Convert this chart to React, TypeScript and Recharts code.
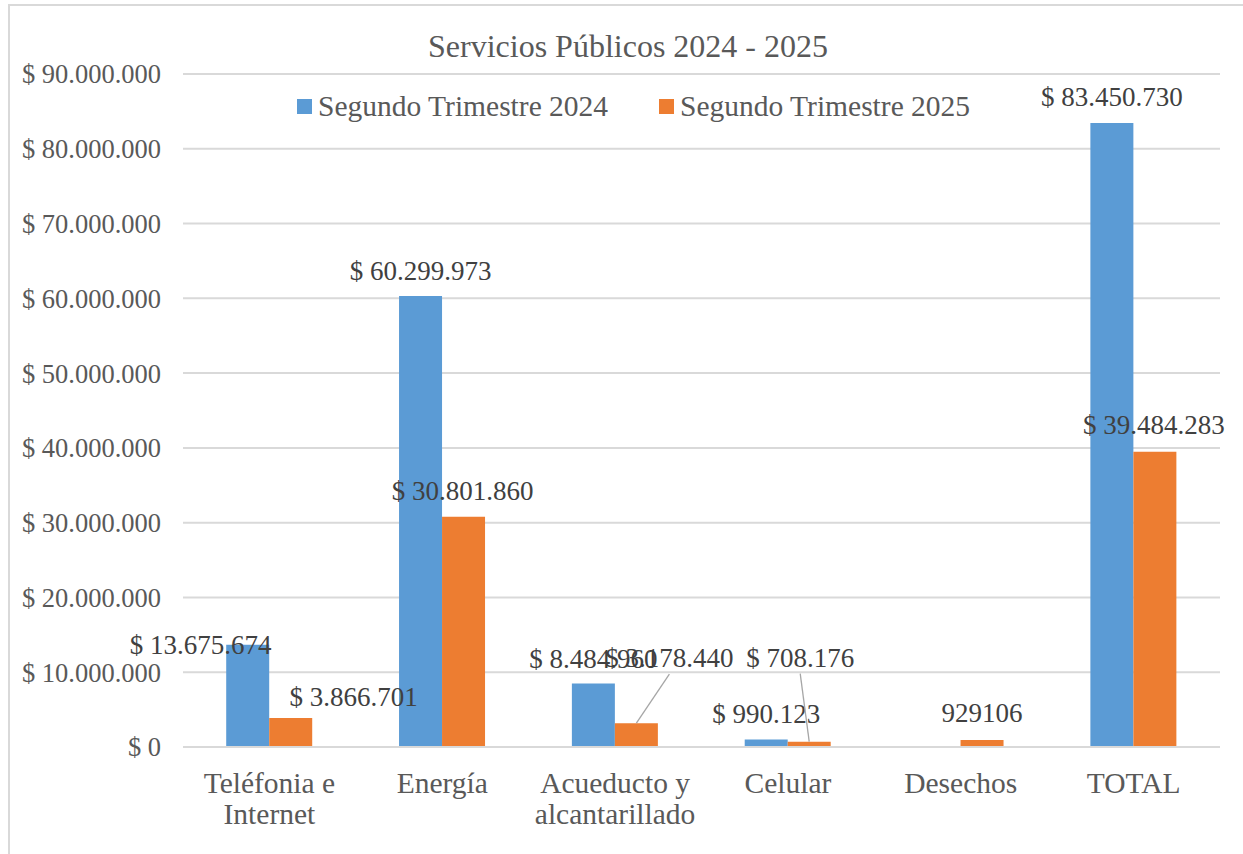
import React from 'react';
import { BarChart, Bar, XAxis, YAxis, CartesianGrid, Legend, LabelList, Customized } from 'recharts';

const categories = ['Teléfonia e Internet', 'Energía', 'Acueducto y alcantarillado', 'Celular', 'Desechos', 'TOTAL'];
const categoryLines = [['Teléfonia e', 'Internet'], ['Energía'], ['Acueducto y', 'alcantarillado'], ['Celular'], ['Desechos'], ['TOTAL']];
const trimestre2024 = [13675674, 60299973, 8484960, 990123, null, 83450730];
const trimestre2025 = [3866701, 30801860, 3178440, 708176, 929106, 39484283];
const yTicks = [0, 10000000, 20000000, 30000000, 40000000, 50000000, 60000000, 70000000, 80000000, 90000000];
const rawLabelCategories = ['Desechos'];
const seriesNames = ['Segundo Trimestre 2024', 'Segundo Trimestre 2025'];

const data = categories.map((c, i) => ({ name: c, a: trimestre2024[i], b: trimestre2025[i] }));

// label placement (dx, dy of label centre from bar top centre, leader line)
const place2024: [number, number, boolean][] = [[-47, 0, false], [0, -25, false], [0, -25, false], [0, -26, false], [0, -25, false], [0, -26, false]];
const place2025: [number, number, boolean][] = [[63, -21, false], [-1, -26, false], [33, -65, true], [-9, -84, true], [0, -27, false], [-1, -27, false]];

const BLUE = '#5B9BD5';
const ORANGE = '#ED7D31';
const FONT = '"Liberation Serif", "Times New Roman", serif';

const dots = (n: number) => String(n).replace(/\B(?=(\d{3})+(?!\d))/g, '.');
const money = (n: number) => '$ ' + dots(n);

const makeLabel = (values: (number | null)[], place: [number, number, boolean][]) => (props: any) => {
  const { x, y, width, value } = props;
  if (value == null) return null;
  const idx = values.indexOf(Number(value));
  if (idx < 0) return null;
  const [dx, dy, leader] = place[idx];
  const cx = Number(x) + Number(width) / 2;
  const top = Number(y);
  const tx = cx + dx;
  const ty = top + dy;
  const txt = rawLabelCategories.includes(categories[idx]) ? String(value) : money(Number(value));
  return (
    <g>
      {leader && <line x1={cx} y1={top} x2={tx} y2={ty + 16} stroke="#A6A6A6" strokeWidth={1.3} />}
      <text x={tx} y={ty} textAnchor="middle" dominantBaseline="central" fontSize={27} fontFamily={FONT} fill="#404040">{txt}</text>
    </g>
  );
};

const XTick = (props: any) => {
  const { x, y, payload, index } = props;
  const idx = categories.indexOf(payload.value);
  const lines = categoryLines[idx >= 0 ? idx : index] || [payload.value];
  return (
    <g>
      {lines.map((l, i) => (
        <text key={i} x={x} y={Number(y) + 46 + i * 31} textAnchor="middle" fontSize={29.5} fontFamily={FONT} fill="#595959">{l}</text>
      ))}
    </g>
  );
};

const LegendContent = () => (
  <div style={{ position: 'relative', width: 700, height: 30, fontFamily: FONT, fontSize: 29.5, color: '#595959' }}>
    {seriesNames.map((n, i) => (
      <div key={n} style={{ position: 'absolute', left: i * 362, top: 0, height: 30, display: 'flex', alignItems: 'center', whiteSpace: 'nowrap' }}>
        <span style={{ display: 'inline-block', width: 15, height: 15, background: i === 0 ? BLUE : ORANGE, marginRight: 6 }} />
        <span>{n}</span>
      </div>
    ))}
  </div>
);

const Title = () => (
  <text x={628} y={57} textAnchor="middle" fontSize={32} fontFamily={FONT} fill="#595959">Servicios Públicos 2024 - 2025</text>
);

export default function App() {
  return (
    <div style={{ position: 'absolute', left: 0, top: 0, width: 1243, height: 854, background: '#fff', overflow: 'hidden' }}>
      <BarChart
        width={1243}
        height={854}
        data={data}
        margin={{ top: 44, right: 23, bottom: 0, left: 0 }}
        barCategoryGap="25%"
        barGap={0}
      >
        <CartesianGrid vertical={false} stroke="#D9D9D9" strokeWidth={2} />
        <XAxis dataKey="name" axisLine={{ stroke: '#D9D9D9', strokeWidth: 2 }} tickLine={false} tickSize={0} tickMargin={0} tick={<XTick />} interval={0} height={107} />
        <YAxis
          width={183}
          domain={[0, 90000000]}
          ticks={yTicks}
          axisLine={false}
          tickLine={false}
          tickSize={0}
          tickMargin={22}
          tickFormatter={(v: number) => money(v)}
          tick={{ fill: '#595959', fontSize: 26.5, fontFamily: FONT }}
        />
        <Legend verticalAlign="top" height={30} content={<LegendContent />} wrapperStyle={{ position: 'absolute', top: 91, left: 297, width: 700 }} />
        <Bar dataKey="a" name={seriesNames[0]} fill={BLUE} isAnimationActive={false}>
          <LabelList dataKey="a" content={makeLabel(trimestre2024, place2024)} />
        </Bar>
        <Bar dataKey="b" name={seriesNames[1]} fill={ORANGE} isAnimationActive={false}>
          <LabelList dataKey="b" content={makeLabel(trimestre2025, place2025)} />
        </Bar>
        <Customized component={Title} />
      </BarChart>
      <div style={{ position: 'absolute', left: 8, top: 4, width: 1235, height: 850, borderLeft: '2px solid #D9D9D9', borderTop: '2px solid #D9D9D9', pointerEvents: 'none' }} />
    </div>
  );
}
